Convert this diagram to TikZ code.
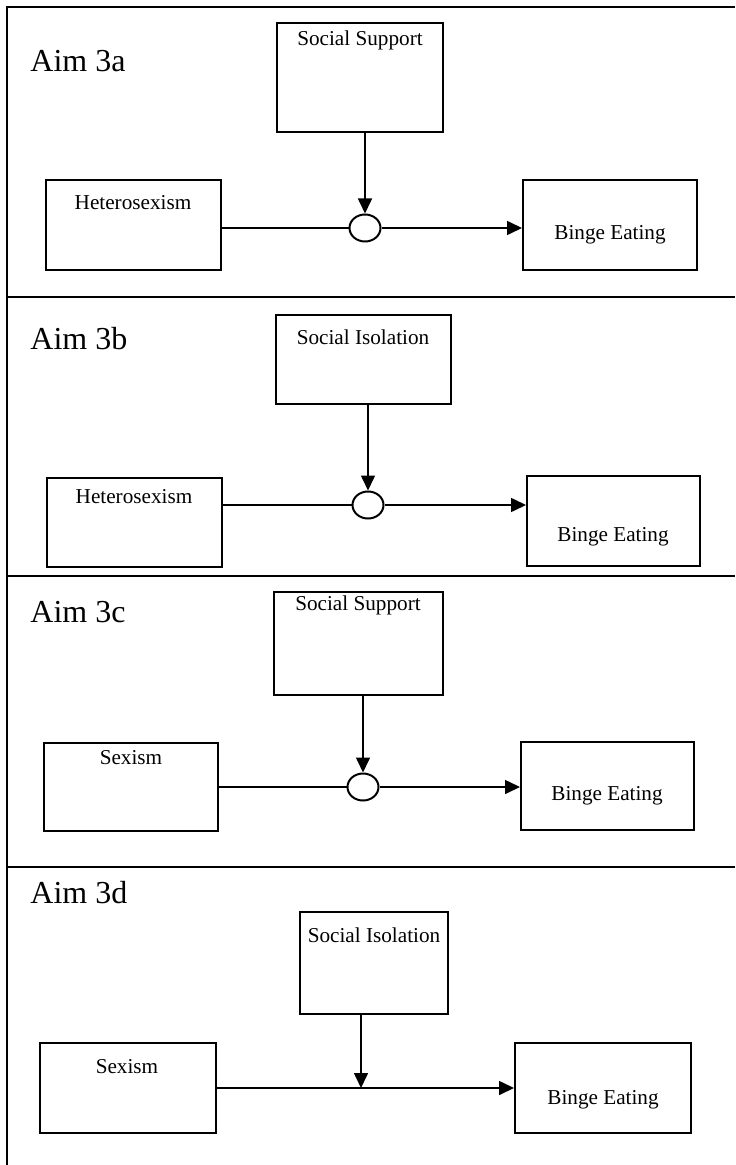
\documentclass[tikz,border=0pt]{standalone}
\usepackage{fontspec}
\setmainfont{Liberation Serif}
\usetikzlibrary{positioning,arrows.meta,shapes.geometric}
% box from (x1,y1) to (x2,y2), given in pixels of the page
\newcommand{\pbox}[5]{
  \pgfmathsetmacro{\bw}{(#4-#2)*0.5}
  \pgfmathsetmacro{\bh}{(#5-#3)*0.5}
  \node[varbox, minimum width=\bw pt, minimum height=\bh pt] (#1) at ({(#2+#4)/2},{(#3+#5)/2}) {};
}
\newcommand{\ptext}[4]{
  \node[vartext] (#1) at (#2,#3) {#4};
}
\tikzset{
  varbox/.style={draw, line width=1pt, inner sep=0pt},
  vartext/.style={anchor=base, inner sep=0pt, font=\fontsize{10.6}{12}\selectfont},
  aimtext/.style={anchor=base west, inner sep=0pt, font=\fontsize{16}{19}\selectfont},
  modcirc/.style={draw, ellipse, line width=1pt, inner sep=0pt, minimum width=15.5pt, minimum height=13.5pt},
  frame/.style={line width=1.4pt},
  link/.style={line width=0.8pt},
  arrow/.style={link, -{Triangle[length=7.5pt,width=7pt]}}
}

\begin{document}
\begin{tikzpicture}[x=0.5pt, y=-0.5pt]
\useasboundingbox (0,0) rectangle (735,1165);
% outer frame and the panel lines
\draw[frame] (735,7) -- (7,7) -- (7,1165);
\foreach \yy in {297,576,867} {
  \draw[frame] (7,\yy) -- (735,\yy);
}

% Aim 3a
\node[aimtext] (aim1) at (30,72) {Aim 3a};
\pbox{sup1}{277}{23}{443}{132}
\pbox{het1}{46}{180}{221}{270}
\pbox{bin1}{523}{180}{697}{270}
\ptext{sup1t}{360}{46}{Social Support}
\ptext{het1t}{133}{210}{Heterosexism}
\ptext{bin1t}{610}{240}{Binge Eating}
\node[modcirc] (c1) at (365,228) {};
\draw[link] (het1.east |- c1.west) -- (c1.west);
\draw[arrow] (c1.east) -- (c1.east -| bin1.west);
\draw[arrow] (c1.north |- sup1.south) -- (c1.north);

% Aim 3b
\node[aimtext] (aim2) at (30,350) {Aim 3b};
\pbox{iso2}{276}{315}{451}{404}
\pbox{het2}{47}{478}{222}{567}
\pbox{bin2}{527}{476}{700}{566}
\ptext{iso2t}{363}{345}{Social Isolation}
\ptext{het2t}{134}{503}{Heterosexism}
\ptext{bin2t}{613}{541}{Binge Eating}
\node[modcirc] (c2) at (368,505) {};
\draw[link] (het2.east |- c2.west) -- (c2.west);
\draw[arrow] (c2.east) -- (c2.east -| bin2.west);
\draw[arrow] (c2.north |- iso2.south) -- (c2.north);

% Aim 3c
\node[aimtext] (aim3) at (30,622) {Aim 3c};
\pbox{sup3}{274}{592}{443}{695}
\pbox{sex3}{44}{743}{218}{831}
\pbox{bin3}{521}{742}{694}{830}
\ptext{sup3t}{358}{610}{Social Support}
\ptext{sex3t}{131}{764}{Sexism}
\ptext{bin3t}{607}{800}{Binge Eating}
\node[modcirc] (c3) at (363,787) {};
\draw[link] (sex3.east |- c3.west) -- (c3.west);
\draw[arrow] (c3.east) -- (c3.east -| bin3.west);
\draw[arrow] (c3.north |- sup3.south) -- (c3.north);

% Aim 3d, no circle here
\node[aimtext] (aim4) at (30,903) {Aim 3d};
\pbox{iso4}{300}{912}{448}{1014}
\pbox{sex4}{40}{1043}{216}{1133}
\pbox{bin4}{515}{1043}{691}{1133}
\ptext{iso4t}{374}{942}{Social Isolation}
\ptext{sex4t}{127}{1073}{Sexism}
\ptext{bin4t}{603}{1104}{Binge Eating}
\coordinate (j4) at (361,1088);
\draw[link] (sex4.east |- j4) -- (j4);
\draw[arrow] (j4) -- (j4 -| bin4.west);
\draw[arrow] (j4 |- iso4.south) -- (j4);
\end{tikzpicture}
\end{document}
